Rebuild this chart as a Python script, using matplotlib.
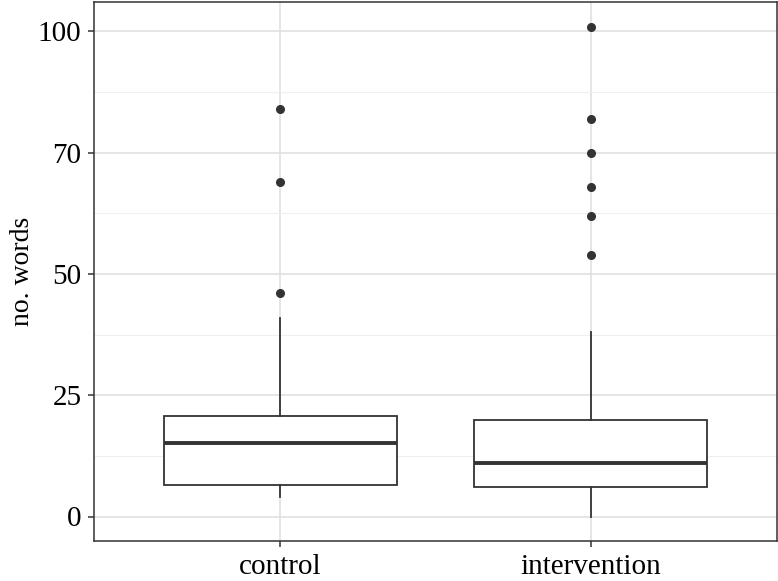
"""Box plot of word counts by group (control vs intervention)."""

import matplotlib

matplotlib.use("Agg")
import matplotlib.pyplot as plt

groups = ["control", "intervention"]
whisker_low = [4.1, 0.0]
q1 = [6.4, 6.0]
median = [15.1, 11.0]
q3 = [20.7, 19.8]
whisker_high = [40.9, 38.0]
outliers = [
    [46.0, 69.0, 84.0],
    [54.0, 62.0, 68.0, 75.0, 82.0, 101.0],
]
y_ticks = [0, 25, 50, 75, 100]
y_tick_labels = ["0", "25", "50", "70", "100"]
y_minor = [12.5, 37.5, 62.5, 87.5]

plt.rcParams["font.family"] = ["Liberation Serif", "DejaVu Serif"]

fig = plt.figure(figsize=(7.78, 5.81), dpi=100)
ax = fig.add_axes([94 / 778, 40 / 581, 683 / 778, 539 / 581])

stats = []
for i, name in enumerate(groups):
    stats.append(
        {
            "label": name,
            "whislo": whisker_low[i],
            "q1": q1[i],
            "med": median[i],
            "q3": q3[i],
            "whishi": whisker_high[i],
            "fliers": outliers[i],
        }
    )

dark = "#333333"
ax.bxp(
    stats,
    positions=[1, 2],
    widths=0.75,
    showcaps=False,
    patch_artist=True,
    boxprops=dict(facecolor="white", edgecolor=dark, linewidth=1.3),
    medianprops=dict(color=dark, linewidth=2.8),
    whiskerprops=dict(color=dark, linewidth=1.3),
    flierprops=dict(marker="o", markerfacecolor=dark, markeredgecolor=dark, markersize=5.5),
    zorder=3,
)

ax.set_xlim(0.4, 2.6)
ax.set_ylim(-5.05, 106.05)
ax.set_xticks([1, 2])
ax.set_xticklabels(groups)
ax.set_yticks(y_ticks)
ax.set_yticklabels(y_tick_labels)
ax.set_yticks(y_minor, minor=True)
ax.tick_params(axis="y", which="minor", length=0)
ax.tick_params(axis="both", which="major", labelsize=21, length=4, width=1.1,
               color=dark, labelcolor="black", pad=5)
ax.set_ylabel("no. words", fontsize=20, labelpad=2)

ax.grid(True, which="major", color="#e0e0e0", linewidth=1.2, zorder=0)
ax.grid(True, which="minor", axis="y", color="#efefef", linewidth=0.8, zorder=0)
ax.set_axisbelow(True)
for spine in ax.spines.values():
    spine.set_color(dark)
    spine.set_linewidth(1.1)

fig.savefig("out.png", dpi=100)
